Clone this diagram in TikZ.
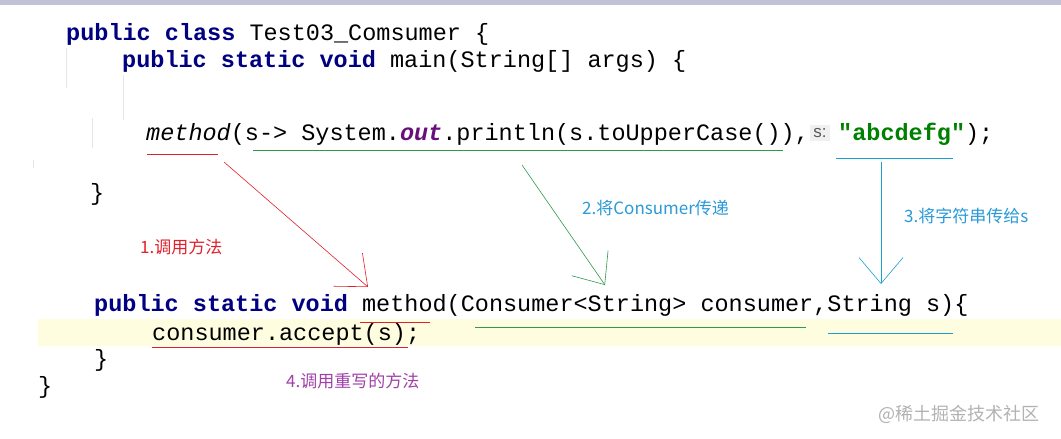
\documentclass[tikz,border=0pt]{standalone}
\usepackage{fontspec}
\newfontfamily\codefont{Liberation Mono}
\newfontfamily\hintfont{Liberation Sans}
\newfontfamily\cjk{Noto Sans CJK SC}
\usetikzlibrary{arrows.meta}
\definecolor{kw}{HTML}{000080}
\definecolor{pur}{HTML}{660E7A}
\definecolor{str}{HTML}{008000}
\definecolor{ured}{HTML}{E0202A}
\definecolor{ugreen}{HTML}{2E9A4A}
\definecolor{ucyan}{HTML}{1AA0D0}
\definecolor{lblue}{HTML}{2A9AD8}
\definecolor{lpurple}{HTML}{A040A8}
\begin{document}
\begin{tikzpicture}[x=1pt,y=-1pt,
  code/.style={anchor=base west,inner sep=0pt,font=\fontsize{23.5}{23.5}\codefont},
  lbl/.style={anchor=base west,inner sep=0pt,font=\fontsize{17}{17}\cjk},
  ul/.style={line width=0.9pt},
  arr/.style={line width=0.6pt,-{Straight Barb[length=26pt,width=44pt,line width=0.6pt]}}]
\useasboundingbox (0,0) rectangle (1061,439);
\fill[white] (0,0) rectangle (1061,439);
\fill[blue!20!gray!40] (0,0) rectangle (1061,5);
\fill[yellow!12] (38,319) rectangle (1061,346);
\draw[gray!20] (66,48) -- (66,88) (123,75) -- (123,120) (92,118) -- (92,148) (33,160) -- (33,168);
\node[code] (l1) at (66,40) {\textbf{\color{kw}public class} Test03\_Comsumer \{};
\node[code] (l2) at (122,67) {\textbf{\color{kw}public static void} main(String[] args) \{};
\node[code] (l3) at (146,140) {\textit{method}(s-> System.\textbf{\textit{\color{pur}out}}.println(s.toUpperCase()),};
\node[fill=gray!12,inner sep=3pt,text=gray!70!black] (hint) at (820,133) {\fontsize{17}{17}\hintfont s:};
\node[code] (l3b) at (838,140) {\textbf{\color{str}"abcdefg"});};
\node[code] (l4) at (90,200) {\}};
\node[code] (l5) at (94,311) {\textbf{\color{kw}public static void} method(Consumer<String> consumer,String s)\{};
\node[code] (l6) at (152,340) {consumer.accept(s);};
\node[code] (l7) at (94,366) {\}};
\node[code] (l8) at (38,393) {\}};
% underlines
\draw[ul,ured] (147,154) -- (218,154);
\draw[ul,ugreen] (253,150) -- (783,150);
\draw[ul,ucyan] (836,158) -- (953,158);
\draw[ul,ured] (360,322) -- (430,322);
\draw[ul,ugreen] (475,327) -- (806,327);
\draw[ul,ucyan] (828,333) -- (953,333);
\draw[ul,ured] (152,347) -- (408,347);
% arrows
\coordinate (a1s) at (224,162); \coordinate (a1e) at (368,287);
\coordinate (a2s) at (522,165); \coordinate (a2e) at (605,285);
\coordinate (a3s) at (881,162); \coordinate (a3e) at (881,284);
\draw[arr,ured] (a1s) -- (a1e);
\draw[arr,ugreen] (a2s) -- (a2e);
\draw[arr,ucyan] (a3s) -- (a3e);
% labels
\node[lbl,text=ured] (t1) at (140,253) {1.调用方法};
\node[lbl,text=lblue] (t2) at (582,214) {2.将Consumer传递};
\node[lbl,text=lblue] (t3) at (904,222) {3.将字符串传给s};
\node[lbl,text=lpurple] (t4) at (286,387) {4.调用重写的方法};
\node[lbl,text=gray!60,font=\fontsize{18}{18}\cjk] (wm) at (878,420) {@稀土掘金技术社区};
\end{tikzpicture}
\end{document}
